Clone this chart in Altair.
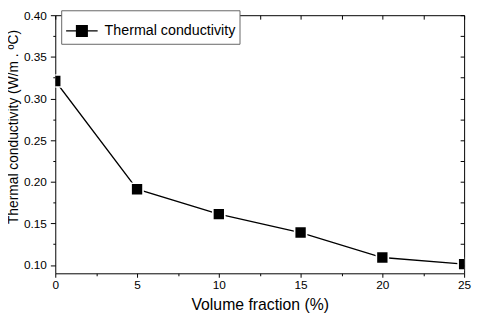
import altair as alt
import pandas as pd

# data
volume_fraction = [0, 5, 10, 15, 20, 25]
thermal_cond = [0.321, 0.191, 0.161, 0.139, 0.109, 0.101]
series_name = "Thermal conductivity"

x_major = [0, 5, 10, 15, 20, 25]
x_minor = [2.5, 7.5, 12.5, 17.5, 22.5]
x_all = [0, 2.5, 5, 7.5, 10, 12.5, 15, 17.5, 20, 22.5, 25]
y_major = [0.10, 0.15, 0.20, 0.25, 0.30, 0.35, 0.40]
y_minor = [0.125, 0.175, 0.225, 0.275, 0.325, 0.375]
y_all = [0.10, 0.125, 0.15, 0.175, 0.20, 0.225, 0.25, 0.275, 0.30, 0.325, 0.35, 0.375, 0.40]

df = pd.DataFrame({"vf": volume_fraction, "tc": thermal_cond, "s": [series_name] * len(volume_fraction)})

FONT = "Liberation Sans"
xs = alt.Scale(domain=[0, 25], nice=False, zero=False)
ys = alt.Scale(domain=[0.09, 0.40], nice=False, zero=False)

base = alt.Chart(df)

line = base.mark_line(color="black", strokeWidth=1.3, clip=True).encode(
    x=alt.X("vf:Q", scale=xs, axis=alt.Axis(
        orient="bottom", values=x_major, tickSize=4, labelPadding=2,
        labelFontSize=12, title="Volume fraction (%)", titleFontSize=16,
        titlePadding=7, labelFlush=False)),
    y=alt.Y("tc:Q", scale=ys, axis=alt.Axis(
        orient="left", values=y_major, format=".2f", tickSize=5, labelPadding=4,
        labelFontSize=12, title="Thermal conductivity (W/m . \u00baC)", titleFontSize=14,
        titleX=-42, titleY=113, titleBaseline="middle")),
)

halo = base.mark_point(shape="square", filled=True, size=190, color="white", opacity=1, clip=True).encode(
    x=alt.X("vf:Q", scale=xs, axis=alt.Axis(
        orient="bottom", values=x_minor, tickSize=2.5, labels=False, title=None)),
    y=alt.Y("tc:Q", scale=ys, axis=alt.Axis(
        orient="left", values=y_minor, tickSize=2.5, labels=False, title=None)),
)

sym_path = "M-1,0H-0.36M0.36,0H1M-0.34,-0.34H0.34V0.34H-0.34Z"

points = base.mark_point(shape="square", filled=True, size=110, opacity=1, clip=True).encode(
    x=alt.X("vf:Q", scale=xs, axis=alt.Axis(
        orient="top", values=x_all, tickSize=4, offset=-4, labels=False, title=None)),
    y=alt.Y("tc:Q", scale=ys, axis=alt.Axis(
        orient="right", values=y_all, tickSize=4, offset=-4, labels=False, title=None)),
    color=alt.Color("s:N", scale=alt.Scale(range=["black"]), legend=alt.Legend(
        title=None, orient="none", legendX=6, legendY=-5,
        symbolType=sym_path, symbolSize=1024, symbolStrokeWidth=1.3,
        symbolStrokeColor="black", symbolFillColor="black",
        labelFontSize=14.5, labelFont=FONT, labelColor="black", labelOffset=6,
        padding=4, strokeColor="#666666", fillColor="white")),
)

chart = alt.layer(line, halo, points).resolve_axis(
    x="independent", y="independent"
).properties(
    width=415, height=262,
    padding={"left": 48, "top": 5, "right": 8, "bottom": 40},
    autosize=alt.AutoSizeParams(type="none"),
    background="white",
).configure_view(
    stroke="black", strokeWidth=1,
).configure_axis(
    grid=False, domain=False, labelFont=FONT, titleFont=FONT,
    labelColor="black", titleColor="black", tickColor="black",
    tickWidth=1, titleFontWeight="normal",
)

chart.save("out.html", embed_options={"renderer": "svg", "actions": False})
